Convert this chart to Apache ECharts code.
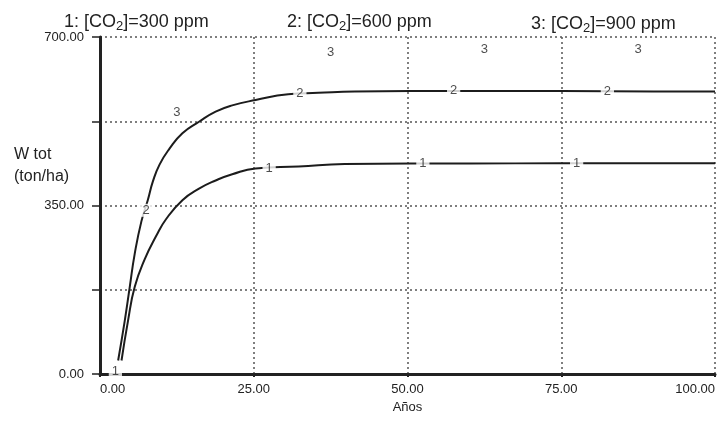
<!DOCTYPE html>
<html>
<head>
<meta charset="utf-8">
<script src="https://cdn.jsdelivr.net/npm/echarts@6/dist/echarts.min.js"></script>
<style>html,body{margin:0;padding:0;background:#fff;}#c{width:718px;height:426px;}</style>
</head>
<body>
<div id="c"></div>
<script>
// Series names (header texts)
const headerNames = ['1: [CO2]=300 ppm', '2: [CO2]=600 ppm', '3: [CO2]=900 ppm'];
// X axis ticks (Años) and Y axis ticks (W tot, ton/ha)
const xTicks = [0, 25, 50, 75, 100];
const yTicks = [0, 175, 350, 525, 700];
// Series 1: [CO2]=300 ppm  (x = años, y = W tot)
const s1X = [3.5, 4.56, 5.65, 7.26, 9.15, 10.76, 13.4, 16.1, 18.8, 21.5, 25.3, 32.3, 39.8, 50.5, 60, 75, 90, 100];
const s1Y = [28, 111, 181, 238, 287, 322, 361, 385, 402, 415, 427, 431, 436, 437, 437, 438, 438, 438];
// Series 2: [CO2]=600 ppm
const s2X = [2.95, 4.03, 4.84, 5.65, 6.73, 7.79, 8.6, 9.68, 11.3, 13.4, 16.1, 18.8, 21.5, 25.3, 30.6, 35.5, 41.4, 50.5, 60, 75, 90, 100];
const s2Y = [28, 111, 181, 250, 317, 362, 400, 435, 468, 500, 524, 545, 558, 569, 581, 584, 587, 588, 588, 588, 587, 587];
// Curve-label positions (as printed on the plot)
const lab1X = [2.5, 27.5, 52.5, 77.5];
const lab1Y = [6, 428, 437, 438];
const lab2X = [7.5, 32.5, 57.5, 82.5];
const lab2Y = [340, 582, 588, 587];
const lab3X = [12.5, 37.5, 62.5, 87.5];
const lab3Y = [543, 669, 674, 674];

const FONT = 'Liberation Sans, Arial, sans-serif';
const zip = (a, b) => a.map((v, i) => [v, b[i]]);
const richHeader = s => {
  const m = s.split('CO2');
  return '{a|' + m[0] + 'CO}{s|2}{a|' + m[1] + '}';
};
const headerRich = {
  a: {fontSize: 18, fontWeight: 'normal', color: '#222', fontFamily: FONT},
  s: {fontSize: 13, fontWeight: 'normal', color: '#222', fontFamily: FONT, padding: [8, 0, 0, 0]}
};
const headerPos = [[59, 7], [282, 7], [526, 9]];
const lineColor = '#1c1c1c';
const labelSeries = (name, xs, ys, txt) => ({
  type: 'scatter', name: name, z: 5,
  symbolSize: 0,
  data: zip(xs, ys),
  label: {show: true, position: 'inside', formatter: txt, color: '#222', fontSize: 13,
          fontFamily: FONT, backgroundColor: '#fff', padding: [0, 3]},
  silent: true
});

const chart = echarts.init(document.getElementById('c'), null, {renderer: 'canvas'});
chart.setOption({
  animation: false,
  backgroundColor: '#fff',
  title: headerNames.map((h, i) => ({
    text: richHeader(h), left: headerPos[i][0], top: headerPos[i][1],
    textStyle: {fontWeight: 'normal', rich: headerRich}
  })).concat([{
    text: 'W tot\n(ton/ha)', left: 9, top: 139,
    textStyle: {fontSize: 16, lineHeight: 22, fontWeight: 'normal', color: '#222', fontFamily: FONT}
  }]),
  grid: {left: 100, right: -2, top: 37, bottom: 52},
  xAxis: {
    type: 'value', min: xTicks[0], max: xTicks[xTicks.length - 1], interval: 25,
    name: 'Años', nameLocation: 'middle', nameGap: 24,
    nameTextStyle: {fontSize: 13, color: '#222', fontFamily: FONT},
    axisLine: {show: true, lineStyle: {color: '#222', width: 3}},
    axisTick: {show: true, inside: false, length: 3, lineStyle: {color: '#222', width: 2}},
    axisLabel: {margin: 9, fontSize: 13, color: '#222', fontFamily: FONT,
                formatter: v => v.toFixed(2), alignMinLabel: 'left', alignMaxLabel: 'right'},
    splitLine: {show: true, lineStyle: {color: '#555', width: 1.5, type: [2, 3]}}
  },
  yAxis: {
    type: 'value', min: yTicks[0], max: yTicks[yTicks.length - 1], interval: 175,
    axisLine: {show: true, lineStyle: {color: '#222', width: 3}},
    axisTick: {show: true, length: 8, lineStyle: {color: '#222', width: 1.5}},
    axisLabel: {margin: 16, fontSize: 13, color: '#222', fontFamily: FONT,
                formatter: v => (v % 350 === 0 ? v.toFixed(2) : '')},
    splitLine: {show: true, lineStyle: {color: '#555', width: 1.5, type: [2, 3]}}
  },
  series: [
    {type: 'line', name: headerNames[0], data: zip(s1X, s1Y), smooth: 0.5, showSymbol: false,
     lineStyle: {color: lineColor, width: 2}, z: 3},
    {type: 'line', name: headerNames[1], data: zip(s2X, s2Y), smooth: 0.5, showSymbol: false,
     lineStyle: {color: lineColor, width: 2}, z: 3},
    labelSeries('lab1', lab1X, lab1Y, '1'),
    labelSeries('lab2', lab2X, lab2Y, '2'),
    labelSeries('lab3', lab3X, lab3Y, '3')
  ]
});
</script>
</body>
</html>
